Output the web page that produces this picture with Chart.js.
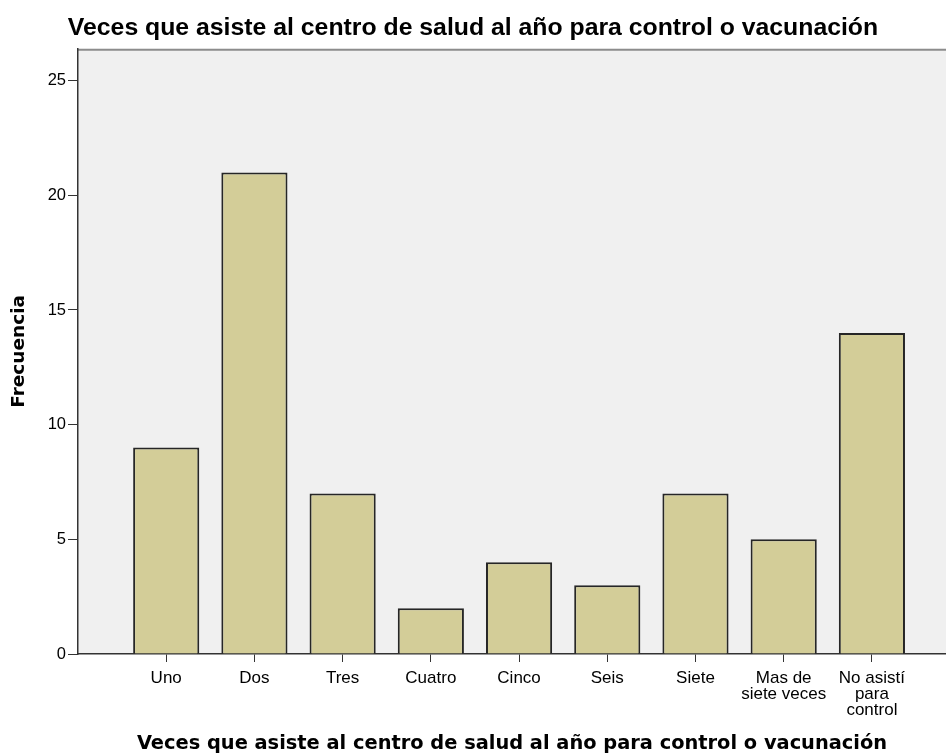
<!DOCTYPE html>
<html>
<head>
<meta charset="utf-8">
<script src="https://cdn.jsdelivr.net/npm/chart.js@4"></script>
<style>
  html, body { margin: 0; padding: 0; background: #ffffff; }
  #wrap { width: 946px; height: 756px; }
</style>
</head>
<body>
<div id="wrap"><canvas id="chart" width="946" height="756"></canvas></div>
<script>
var categories = ['Uno', 'Dos', 'Tres', 'Cuatro', 'Cinco', 'Seis', 'Siete',
    ['Mas de', 'siete veces'], ['No asistí', 'para', 'control']];
var counts = [9, 21, 7, 2, 4, 3, 7, 5, 14];
var yTicks = [0, 5, 10, 15, 20, 25];

var titleText = 'Veces que asiste al centro de salud al año para control o vacunación';

// plot background and the grey top border
var plotFrame = {
    id: 'plotFrame',
    beforeDraw: function(chart) {
        var a = chart.chartArea, c = chart.ctx;
        c.save();
        c.fillStyle = '#f0f0f0';
        c.fillRect(a.left, a.top, a.right - a.left, a.bottom - a.top);
        c.strokeStyle = '#8c8c8c';
        c.lineWidth = 2;
        c.beginPath();
        c.moveTo(a.left, a.top + 1);
        c.lineTo(a.right, a.top + 1);
        c.stroke();
        c.restore();
    }
};

document.addEventListener('DOMContentLoaded', function() {
    var ctx = document.getElementById('chart').getContext('2d');
    var points = counts.map(function(v, i) { return { x: i + 1, y: v }; });

    new Chart(ctx, {
        type: 'bar',
        data: {
            datasets: [{
                data: points,
                backgroundColor: '#d3cd98',
                borderColor: '#262626',
                borderWidth: 2,
                barPercentage: 0.75,
                categoryPercentage: 1
            }]
        },
        options: {
            responsive: false,
            animation: false,
            layout: { padding: 0 },
            plugins: {
                legend: { display: false },
                tooltip: { enabled: false },
                title: {
                    display: true,
                    text: titleText,
                    color: '#000',
                    font: { family: 'Liberation Sans', size: 24.8, weight: 'bold' },
                    padding: { top: 13, bottom: 6 }
                }
            },
            scales: {
                x: {
                    type: 'linear',
                    offset: false,
                    min: 0,
                    max: 9.84,
                    afterBuildTicks: function(scale) {
                        scale.ticks = categories.map(function(c, i) { return { value: i + 1 }; });
                    },
                    afterFit: function(scale) { scale.height = 102; },
                    ticks: {
                        autoSkip: false,
                        maxRotation: 0,
                        color: '#000',
                        padding: 8,
                        font: { family: 'Liberation Sans', size: 17, lineHeight: 0.95 },
                        callback: function(v) { return categories[v - 1] || ''; }
                    },
                    grid: {
                        offset: false,
                        drawOnChartArea: false,
                        drawTicks: true,
                        tickLength: 8,
                        tickColor: '#333'
                    },
                    border: { color: '#333', width: 1.5 },
                    title: {
                        display: true,
                        text: titleText,
                        color: '#000',
                        font: { family: 'DejaVu Sans', size: 19.4, weight: 'bold' },
                        padding: { top: 0, bottom: 0 }
                    }
                },
                y: {
                    min: 0,
                    max: 26.39,
                    afterBuildTicks: function(scale) {
                        scale.ticks = yTicks.map(function(v) { return { value: v }; });
                    },
                    afterFit: function(scale) { scale.width = 78; },
                    ticks: {
                        color: '#000',
                        padding: 2,
                        font: { family: 'Liberation Sans', size: 16.5 }
                    },
                    grid: {
                        drawOnChartArea: false,
                        drawTicks: true,
                        tickLength: 10,
                        tickColor: '#333'
                    },
                    border: { color: '#333', width: 1.5 },
                    title: {
                        display: true,
                        text: 'Frecuencia',
                        color: '#000',
                        font: { family: 'DejaVu Sans', size: 18.5, weight: 'bold' },
                        padding: { top: 8, bottom: 0 }
                    }
                }
            }
        },
        plugins: [plotFrame]
    });
});
</script>
</body>
</html>
